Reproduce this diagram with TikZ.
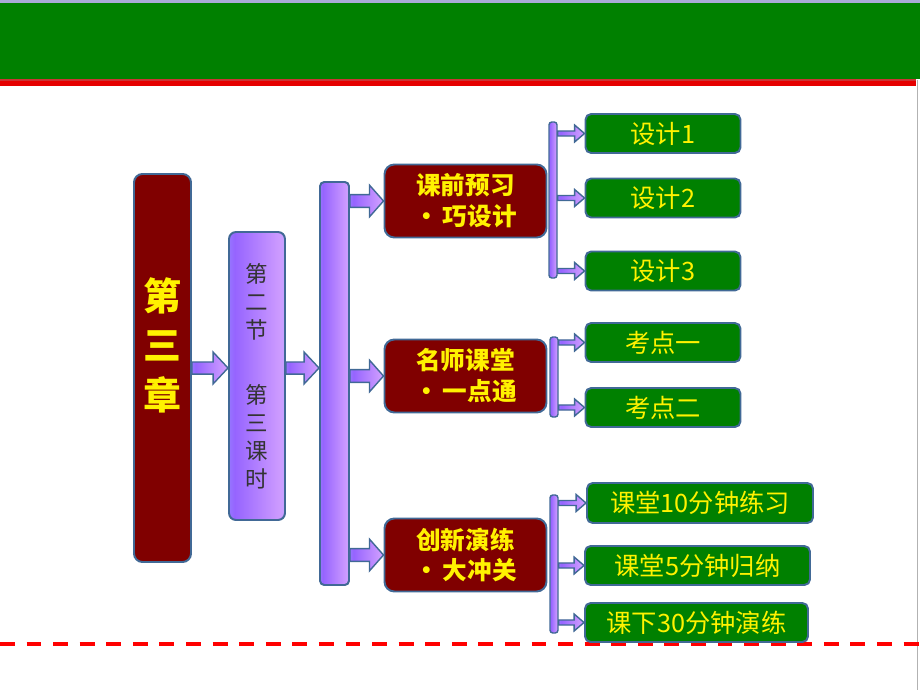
\documentclass[tikz,border=0pt]{standalone}
\usepackage{fontspec}
\setmainfont{Noto Sans CJK SC}
\usepackage{tikz}
\usetikzlibrary{calc, positioning}
\usepackage{xcolor}

\definecolor{slidegreen}{RGB}{0,128,0}
\definecolor{boxred}{RGB}{128,0,0}
\definecolor{edgeblue}{RGB}{65,105,150}
\definecolor{lightblue}{RGB}{150,205,255}
\definecolor{deeppurple}{RGB}{150,100,255}
\definecolor{lilac}{RGB}{205,155,255}
\definecolor{topline}{RGB}{170,170,215}

\pgfdeclarehorizontalshading{purplebar}{100bp}{%
  color(0bp)=(lightblue); color(30bp)=(deeppurple);
  color(70bp)=(lilac); color(100bp)=(lightblue)}

\newcommand{\pxu}{0.025cm}

% block arrow: start, end, shaft half, head half, head length
\newcommand{\blockarrow}[5]{%
  \draw[arrowshape] let \p1=(#1), \p2=(#2) in
    (\x1,\y1+#3) -- (\x2-#5,\y1+#3) -- (\x2-#5,\y1+#4) -- (\x2,\y1)
    -- (\x2-#5,\y1-#4) -- (\x2-#5,\y1-#3) -- (\x1,\y1-#3) -- cycle;}

\tikzset{
  chapterbox/.style={draw=edgeblue, line width=1.4pt, fill=boxred,
    rounded corners=6pt, inner sep=0pt, align=center,
    text=yellow, font=\fontsize{27}{35}\selectfont\bfseries},
  shadebox/.style={draw=edgeblue, line width=1.4pt, shading=purplebar,
    rounded corners=5pt, inner sep=0pt, align=center},
  partbox/.style={draw=edgeblue, line width=1.4pt, fill=boxred,
    rounded corners=7pt, inner sep=0pt, align=center,
    minimum width=162*\pxu, minimum height=73*\pxu,
    text=yellow, font=\fontsize{17.5}{22}\selectfont\bfseries},
  itembox/.style={draw=edgeblue, line width=1.4pt, fill=slidegreen,
    rounded corners=4pt, inner sep=0pt, minimum height=39*\pxu,
    text=yellow, font=\fontsize{18}{20}\selectfont},
  arrowshape/.style={draw=edgeblue, line width=1pt, shading=purplebar,
    line join=miter}
}

\begin{document}
\begin{tikzpicture}[x=\pxu, y=-\pxu]

\useasboundingbox (0,0) rectangle (920,690);

% -------- Title band --------
\fill[topline] (0,0) rectangle (920,3);
\fill[slidegreen] (0,3) rectangle (920,79);
\fill[red!60!gray] (0,79) rectangle (916,81);
\fill[red!90!black] (0,81) rectangle (916,86);
\draw[gray!60, line width=0.6pt] (917.5,80) -- (917.5,690);

% -------- Bottom dashed rule --------
\draw[red, line width=3.2pt, dash pattern=on 10.6pt off 8.3pt] (0,644) -- (920,644);

% -------- Chapter and lesson --------
\node[chapterbox, minimum width=57*\pxu, minimum height=388*\pxu] (chap) at (162.5,368)
  {第\\三\\章\\\mbox{}};

\node[shadebox, minimum width=56*\pxu, minimum height=288*\pxu,
  text=black!80, font=\fontsize{16}{20}\selectfont] (lesson) at (257,376)
  {第\\二\\节\\[26pt]第\\三\\课\\时};

\node[shadebox, rounded corners=3pt, minimum width=29*\pxu, minimum height=403*\pxu] (mainbar) at (334.5,383.5) {};

% -------- Three parts --------
\node[partbox] (pre) at (465.5,201) {课前预习\\•\,巧设计};
\node[partbox] (class) at (465.5,376) {名师课堂\\•\,一点通};
\node[partbox] (drill) at (465.5,555) {创新演练\\•\,大冲关};

% -------- Small bars --------
\node[shadebox, rounded corners=2pt, line width=1pt, minimum width=8*\pxu, minimum height=156*\pxu] (prebar) at (553,200) {};
\node[shadebox, rounded corners=2pt, line width=1pt, minimum width=8*\pxu, minimum height=80*\pxu] (classbar) at (554,377) {};
\node[shadebox, rounded corners=2pt, line width=1pt, minimum width=8*\pxu, minimum height=138*\pxu] (drillbar) at (554,564) {};

% -------- Items --------
\node[itembox, minimum width=155*\pxu] (design1) at (663,133.5) {设计1};
\node[itembox, minimum width=155*\pxu] (design2) at (663,198) {设计2};
\node[itembox, minimum width=155*\pxu] (design3) at (663,271) {设计3};
\node[itembox, minimum width=155*\pxu] (point1) at (663,342.5) {考点一};
\node[itembox, minimum width=155*\pxu] (point2) at (663,407.5) {考点二};
\node[itembox, minimum width=226*\pxu, minimum height=40*\pxu] (drill1) at (700,503) {课堂10分钟练习};
\node[itembox, minimum width=225*\pxu] (drill2) at (697.5,565.5) {课堂5分钟归纳};
\node[itembox, minimum width=223*\pxu] (drill3) at (696.5,622.5) {课下30分钟演练};

% -------- Block arrows --------
\blockarrow{chap.east}{lesson.west}{4.3pt}{11.3pt}{10.6pt}
\blockarrow{lesson.east |- chap.east}{mainbar.west}{4.3pt}{11.3pt}{10.6pt}
\foreach \part in {pre, class, drill}
  \blockarrow{mainbar.east |- \part.west}{\part.west}{4.5pt}{11.3pt}{10pt};

\foreach \item in {design1, design2, design3}
  \blockarrow{prebar.east |- \item.west}{\item.west}{1.8pt}{6pt}{7pt};
\foreach \item in {point1, point2}
  \blockarrow{classbar.east |- \item.west}{\item.west}{1.8pt}{6pt}{7pt};
\foreach \item in {drill1, drill2, drill3}
  \blockarrow{drillbar.east |- \item.west}{\item.west}{1.8pt}{6pt}{7pt};

\end{tikzpicture}
\end{document}
